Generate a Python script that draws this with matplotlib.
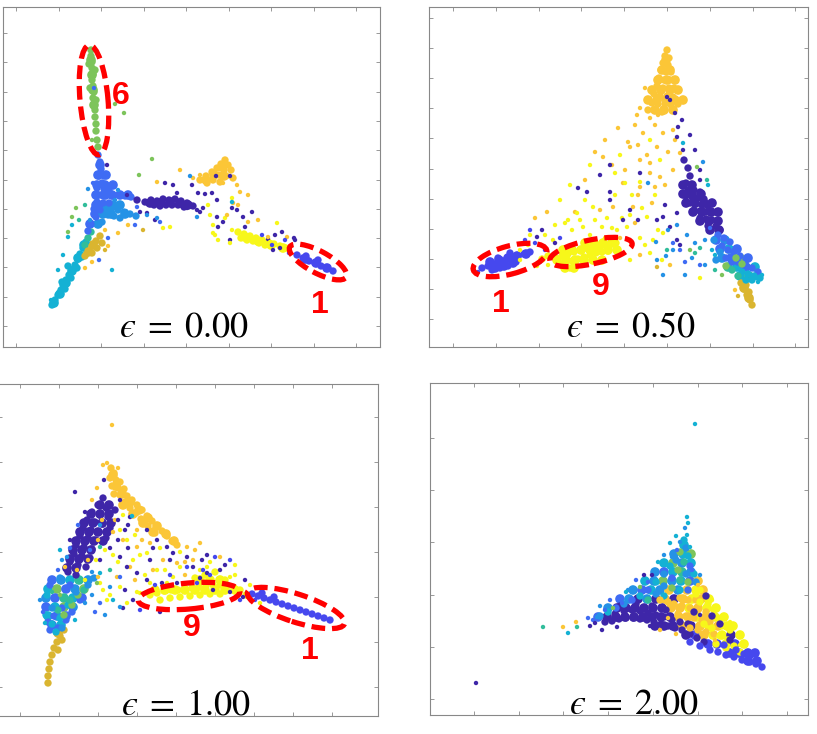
import numpy as np
import matplotlib.pyplot as plt
from matplotlib.patches import Ellipse

plt.rcParams['mathtext.fontset'] = 'stix'

# parula-like colours, one per digit class 0..9
digit_colors = ['#3e26a8', '#4648ee', '#3f6cf4', '#2592e6', '#14b1d4',
                '#31bd9b', '#7dc45b', '#dab530', '#fbc637', '#f7f71a']

eps_values = [0.00, 0.50, 1.00, 2.00]

# embedded samples (x, y, digit)
# "fill" = packed core of a cluster, "dense" = crowded arms, "sparse" = scattered points
eps000_fill = [
    (9.7, 18.2, 2), (9.5, 17.2, 2), (10.3, 17.2, 2), (9.4, 16.2, 2), (10.2, 16.2, 2), (11.0, 16.2, 2),
    (9.3, 15.2, 2), (10.1, 15.2, 2), (10.9, 15.2, 2), (11.7, 15.2, 2), (12.5, 15.2, 2),
    (9.3, 14.2, 2), (10.1, 14.2, 2), (11.0, 14.2, 3), (11.7, 14.2, 3),
    (9.2, 13.3, 2), (10.0, 13.3, 3), (10.8, 13.3, 3), (12.2, 13.3, 3), (8.7, 12.3, 2), (9.5, 12.3, 3),
    (8.1, 10.2, 4), (7.5, 8.9, 4), (6.9, 7.6, 4), (6.3, 6.4, 4), (5.7, 5.3, 4), (5.1, 4.4, 4),
    (9.0, 10.2, 7), (8.5, 9.5, 7),
    (14.7, 14.4, 0), (15.7, 14.4, 0), (16.7, 14.5, 0), (17.7, 14.4, 0), (18.5, 14.2, 0),
    (21.9, 18.0, 8), (21.1, 17.2, 8), (22.1, 17.1, 8), (20.3, 16.7, 8),
    (24.2, 11.0, 9), (25.5, 10.6, 9), (26.8, 10.2, 9), (28.0, 9.9, 9),
    (30.2, 8.8, 1), (31.3, 8.4, 1), (32.4, 7.9, 1),
    (8.8, 28.7, 6), (8.9, 27.2, 6), (9.0, 25.7, 6), (9.1, 24.2, 6),
]
eps000_dense = [
    (5.2, 4.7, 4), (4.9, 4.2, 4), (5.5, 5.2, 4), (5.8, 5.7, 4), (6.0, 6.2, 4), (6.3, 6.7, 4),
    (6.6, 7.2, 4), (6.9, 7.7, 4), (7.2, 8.2, 4), (7.5, 8.8, 4), (7.7, 9.3, 4), (8.0, 9.9, 4),
    (8.3, 10.5, 4), (7.9, 9.0, 4), (7.4, 7.9, 4), (6.8, 6.9, 4), (6.2, 5.8, 4), (6.5, 8.1, 4),
    (5.9, 6.5, 4),
    (8.5, 10.9, 5), (8.2, 10.2, 5), (8.8, 11.5, 5),
    (9.7, 11.1, 7), (9.3, 10.6, 7), (8.9, 10.1, 7), (8.5, 9.6, 7), (8.2, 9.1, 7), (9.9, 10.4, 7),
    (9.4, 9.9, 7), (8.9, 9.4, 7),
    (10.3, 13.9, 3), (10.9, 13.9, 3), (11.5, 13.7, 3), (12.1, 13.5, 3), (12.7, 13.3, 3),
    (13.3, 13.1, 3), (10.5, 13.2, 3), (11.1, 13.1, 3), (11.7, 12.9, 3), (9.9, 12.5, 3),
    (9.5, 19.2, 2), (9.7, 18.5, 2), (9.8, 17.8, 2), (9.6, 17.1, 2), (10.1, 17.1, 2), (9.9, 16.4, 2),
    (9.4, 15.9, 2), (10.1, 15.8, 2), (10.6, 15.7, 2), (9.7, 15.2, 2), (10.3, 15.1, 2), (11.0, 15.1, 2),
    (11.6, 15.2, 2), (12.2, 15.1, 2), (12.8, 15.0, 2), (9.4, 14.5, 2), (10.0, 14.4, 2), (10.6, 14.4, 2),
    (9.1, 13.8, 2), (9.7, 13.7, 2), (9.3, 13.0, 2), (8.8, 12.3, 2), (8.5, 11.6, 2),
    (14.2, 14.5, 0), (14.8, 14.7, 0), (15.4, 14.6, 0), (16.0, 14.8, 0), (16.6, 14.7, 0), (17.2, 14.8, 0),
    (17.8, 14.6, 0), (18.4, 14.4, 0), (19.0, 14.1, 0), (15.7, 14.1, 0), (16.3, 14.2, 0), (16.9, 14.2, 0),
    (17.5, 14.2, 0), (18.1, 14.0, 0), (15.1, 14.2, 0), (13.4, 14.7, 0),
    (22.2, 18.7, 8), (21.8, 18.3, 8), (22.5, 18.2, 8), (21.4, 17.9, 8), (22.1, 17.7, 8), (22.8, 17.7, 8),
    (20.9, 17.5, 8), (21.6, 17.2, 8), (22.3, 17.1, 8), (23.0, 16.9, 8), (20.3, 17.1, 8), (21.0, 16.7, 8),
    (19.7, 16.7, 8), (20.4, 16.4, 8), (21.7, 16.5, 8),
    (23.5, 11.5, 9), (24.1, 11.3, 9), (24.7, 11.1, 9), (25.3, 10.9, 9), (25.9, 10.7, 9), (26.5, 10.5, 9),
    (27.1, 10.3, 9), (27.7, 10.1, 9), (28.3, 9.9, 9), (23.8, 10.9, 9), (24.4, 10.7, 9), (25.0, 10.6, 9),
    (25.6, 10.4, 9), (26.2, 10.2, 9),
    (29.4, 9.2, 1), (30.0, 8.9, 1), (30.6, 8.6, 1), (31.2, 8.4, 1), (31.8, 8.1, 1), (32.4, 7.9, 1),
    (33.0, 7.6, 1), (30.3, 9.1, 1), (31.5, 8.7, 1),
    (8.8, 29.7, 6), (8.8, 29.1, 6), (8.9, 28.5, 6), (8.9, 27.9, 6), (9.0, 27.3, 6), (8.9, 26.7, 6),
    (9.0, 26.1, 6), (9.1, 25.5, 6), (9.0, 24.9, 6), (9.1, 24.3, 6), (9.2, 23.7, 6), (9.2, 23.0, 6),
    (9.3, 22.3, 6), (9.3, 21.6, 6), (9.4, 20.7, 6), (9.5, 20.0, 6), (8.6, 28.3, 6), (9.2, 27.7, 6),
    (8.7, 25.9, 6), (9.3, 24.7, 6),
]
eps000_sparse = [
    (10.4, 18.2, 0), (12.4, 15.2, 0), (13.7, 13.5, 0), (17.4, 15.4, 0), (19.4, 13.7, 0), (20.0, 13.9, 0),
    (18.9, 16.2, 0), (19.5, 15.4, 0), (20.2, 15.3, 0), (20.9, 15.4, 0), (21.3, 17.1, 0), (22.7, 17.1, 0),
    (21.4, 14.7, 0), (23.4, 13.7, 0), (19.7, 13.5, 0), (21.4, 13.0, 0), (21.5, 12.0, 0), (22.0, 12.5, 0),
    (22.9, 13.9, 0), (24.0, 13.0, 0), (24.9, 13.5, 0), (24.2, 12.0, 0), (22.7, 10.7, 0), (26.5, 10.8, 0),
    (27.2, 11.2, 0), (27.9, 11.5, 0), (27.0, 9.7, 0), (29.2, 10.7, 0), (27.7, 9.9, 0), (29.1, 10.9, 0),
    (14.4, 13.4, 0), (15.2, 12.7, 0), (17.0, 16.2, 0), (16.2, 16.4, 0), (18.4, 13.9, 0),
    (20.7, 13.2, 9), (21.0, 12.2, 9), (21.2, 11.2, 9), (21.5, 10.7, 9), (22.9, 14.9, 9), (22.2, 12.9, 9),
    (22.9, 11.7, 9), (27.4, 12.4, 9), (26.7, 10.5, 9), (16.0, 11.9, 9), (16.7, 12.0, 9), (21.0, 11.4, 9),
    (22.7, 10.4, 9), (20.5, 14.2, 9),
    (19.0, 16.9, 8), (19.7, 17.2, 8), (22.0, 16.4, 8), (23.4, 16.2, 8), (23.7, 15.5, 8), (24.5, 15.2, 8),
    (23.0, 14.4, 8), (23.5, 14.2, 8), (22.4, 13.2, 8), (24.5, 12.5, 8), (25.5, 12.7, 8), (26.5, 11.0, 8),
    (28.4, 11.0, 8), (17.7, 17.7, 8), (15.4, 16.5, 8), (12.5, 12.2, 8), (11.5, 11.4, 8), (10.5, 10.1, 8),
    (8.2, 7.9, 8), (10.2, 11.7, 8), (8.9, 8.5, 8),
    (14.0, 11.7, 7), (10.2, 9.7, 7),
    (8.5, 15.8, 3), (9.0, 16.4, 2), (10.5, 10.9, 2), (10.9, 7.7, 4), (9.6, 8.7, 2), (15.4, 12.9, 3),
    (14.4, 13.2, 3), (12.3, 13.6, 3), (13.4, 14.0, 2), (8.7, 12.7, 3), (18.7, 17.1, 3), (19.4, 13.0, 3),
    (22.9, 14.5, 4), (26.9, 10.2, 1), (25.9, 11.2, 1), (28.2, 10.7, 1), (28.6, 9.4, 1), (11.5, 15.7, 3),
    (11.2, 14.7, 3), (13.2, 12.2, 2), (15.7, 12.5, 2), (9.1, 25.9, 2),
    (6.5, 11.0, 4), (6.9, 12.2, 4), (6.0, 9.2, 4), (5.5, 7.7, 4), (4.8, 4.7, 4),
    (6.9, 13.0, 6), (7.3, 13.9, 6), (6.5, 11.5, 6), (7.6, 12.7, 5), (11.2, 24.3, 6), (12.1, 23.4, 6),
    (14.9, 18.8, 6), (13.6, 17.2, 6), (8.9, 20.7, 6), (8.2, 14.2, 5),
]

eps050_fill = [
    (23.7, 28.7, 8), (23.3, 27.7, 8), (24.1, 27.7, 8), (22.9, 26.7, 8), (23.8, 26.7, 8), (24.6, 26.7, 8),
    (22.3, 25.7, 8), (23.2, 25.7, 8), (24.1, 25.7, 8), (24.9, 25.7, 8), (21.9, 24.7, 8), (22.8, 24.7, 8),
    (23.7, 24.7, 8), (24.6, 24.7, 8), (25.4, 24.7, 8), (22.6, 23.7, 8), (23.5, 23.7, 8), (24.4, 23.7, 8),
    (25.4, 16.2, 0), (26.3, 16.2, 0), (25.4, 15.3, 0), (26.3, 15.3, 0), (27.2, 15.3, 0), (25.7, 14.4, 0),
    (26.6, 14.4, 0), (27.5, 14.4, 0), (28.3, 14.4, 0), (26.4, 13.5, 0), (27.3, 13.5, 0), (28.2, 13.5, 0),
    (28.9, 13.5, 0), (27.1, 12.6, 0), (28.0, 12.6, 0), (28.9, 12.6, 0), (28.1, 11.7, 0), (29.0, 11.7, 0),
    (28.7, 10.7, 2), (29.6, 10.7, 3), (29.1, 9.8, 2), (30.0, 9.8, 4), (30.8, 9.8, 2), (29.3, 8.9, 3),
    (30.2, 8.9, 2), (31.1, 8.9, 6), (31.9, 8.9, 2), (29.9, 8.0, 5), (30.8, 8.0, 4), (31.7, 8.0, 2),
    (32.6, 8.0, 4), (31.1, 7.1, 4), (32.0, 7.1, 5), (32.9, 7.1, 4), (31.5, 5.9, 7), (32.0, 4.9, 7),
    (6.1, 8.5, 1), (7.0, 8.7, 1), (7.9, 8.9, 1), (8.8, 9.1, 1), (9.7, 9.3, 1), (6.6, 7.9, 1),
    (7.5, 8.1, 1), (8.4, 8.4, 1),
    (13.4, 9.7, 9), (14.3, 9.7, 9), (15.2, 9.7, 9), (16.1, 9.7, 9), (17.0, 9.7, 9), (17.9, 9.7, 9),
    (18.8, 9.7, 9), (12.8, 8.7, 9), (13.7, 8.7, 9), (14.6, 8.7, 9), (15.5, 8.7, 9), (16.4, 8.7, 9),
    (17.3, 8.7, 9), (15.6, 10.4, 9), (16.5, 10.4, 9), (17.4, 10.4, 9), (18.3, 10.4, 9), (13.6, 7.9, 9),
    (14.5, 7.9, 9),
]
eps050_dense = [
    (23.8, 29.7, 8), (23.6, 29.1, 8), (24.0, 28.9, 8), (23.4, 28.4, 8), (23.9, 28.2, 8), (23.2, 27.7, 8),
    (23.7, 27.5, 8), (24.2, 27.5, 8), (23.0, 26.9, 8), (23.5, 26.7, 8), (24.1, 26.7, 8), (22.8, 26.1, 8),
    (23.4, 25.9, 8), (24.0, 25.9, 8), (24.5, 25.9, 8), (22.5, 25.3, 8), (23.1, 25.1, 8), (23.8, 25.1, 8),
    (24.4, 25.0, 8), (22.3, 24.4, 8), (22.9, 24.3, 8), (23.6, 24.3, 8), (24.2, 24.2, 8), (24.9, 24.3, 8),
    (21.9, 23.7, 8), (23.3, 23.5, 8),
    (25.9, 15.7, 0), (26.5, 15.7, 0), (27.1, 15.5, 0), (25.7, 15.1, 0), (26.3, 15.0, 0), (26.9, 14.9, 0),
    (27.5, 14.8, 0), (26.1, 14.4, 0), (26.7, 14.3, 0), (27.3, 14.2, 0), (27.9, 14.1, 0), (26.5, 13.7, 0),
    (27.1, 13.6, 0), (27.7, 13.5, 0), (28.3, 13.4, 0), (27.1, 12.9, 0), (27.7, 12.8, 0), (28.3, 12.7, 0),
    (28.7, 12.1, 0), (27.9, 12.1, 0), (29.1, 11.7, 0), (25.7, 16.4, 0), (26.1, 17.1, 0), (25.9, 17.9, 0),
    (25.5, 18.7, 0),
    (31.2, 6.4, 7), (31.5, 5.8, 7), (31.8, 5.2, 7), (32.1, 4.7, 7), (32.3, 4.2, 7), (31.7, 6.2, 7),
    (32.0, 5.5, 7),
    (28.9, 11.2, 2), (29.5, 10.9, 2), (30.1, 10.5, 2), (29.3, 10.1, 2), (29.9, 9.7, 2), (30.5, 9.5, 2),
    (31.1, 9.1, 2), (31.7, 8.7, 2), (30.9, 8.5, 2), (31.5, 8.1, 2), (32.3, 7.9, 2), (32.9, 7.5, 2),
    (29.7, 8.9, 2), (30.3, 8.5, 2),
    (31.3, 7.5, 4), (31.9, 7.3, 4), (32.5, 7.1, 4), (33.1, 6.9, 4), (31.7, 6.7, 4), (32.3, 6.7, 4),
    (28.5, 10.7, 3), (29.1, 9.5, 3), (28.7, 8.7, 3),
    (30.7, 8.9, 6), (31.3, 8.3, 6), (29.7, 8.1, 6), (30.3, 7.7, 5), (30.9, 7.1, 5),
    (12.7, 8.9, 9), (13.3, 9.1, 9), (13.9, 9.3, 9), (14.5, 9.5, 9), (15.1, 9.7, 9), (15.7, 9.9, 9),
    (16.3, 10.0, 9), (16.9, 10.1, 9), (17.5, 10.2, 9), (18.1, 10.3, 9), (18.7, 10.4, 9), (13.1, 8.3, 9),
    (13.7, 8.5, 9), (14.3, 8.6, 9), (14.9, 8.8, 9), (15.5, 9.0, 9), (16.1, 9.2, 9), (16.7, 9.4, 9),
    (17.3, 9.5, 9), (17.9, 9.6, 9), (14.1, 7.9, 9), (14.7, 8.1, 9), (11.9, 9.1, 9), (11.3, 8.8, 9),
    (5.3, 7.9, 1), (5.9, 8.1, 1), (6.5, 8.3, 1), (7.1, 8.5, 1), (7.7, 8.7, 1), (8.3, 8.9, 1),
    (8.9, 9.1, 1), (9.5, 9.3, 1), (10.1, 9.5, 1), (6.3, 7.7, 1), (7.1, 7.9, 1), (7.9, 8.1, 1),
    (8.7, 8.5, 1), (6.9, 8.9, 1), (8.1, 9.4, 1),
]
eps050_sparse = [
    (21.6, 25.9, 8), (21.1, 23.9, 8), (20.8, 23.2, 8), (22.1, 22.9, 8), (22.9, 23.2, 8), (21.4, 21.4, 8),
    (23.4, 21.4, 8), (24.4, 21.7, 8), (22.8, 20.0, 8), (23.9, 19.5, 8), (20.1, 20.0, 8), (21.1, 18.7, 8),
    (22.1, 17.4, 8), (19.4, 16.4, 8), (21.1, 16.0, 8), (18.9, 21.9, 8), (17.4, 19.0, 8), (16.6, 19.5, 8),
    (22.1, 18.4, 8), (24.4, 17.7, 8), (25.1, 19.4, 8), (11.8, 13.5, 8), (10.6, 12.9, 8), (14.6, 13.5, 8),
    (18.4, 14.0, 8), (20.4, 14.0, 8), (20.9, 15.2, 8), (22.3, 14.4, 8), (19.9, 20.5, 8), (20.9, 20.2, 8),
    (21.8, 19.2, 8), (22.6, 16.0, 8), (20.6, 12.4, 8), (30.6, 5.7, 8), (23.1, 17.0, 8), (18.3, 18.2, 8),
    (15.6, 16.7, 8), (30.9, 5.1, 7), (22.8, 8.0, 7),
    (17.1, 13.7, 8), (19.6, 17.7, 8), (17.6, 20.7, 8), (19.1, 10.9, 8), (21.1, 9.2, 8), (23.6, 16.2, 8),
    (24.6, 20.7, 8), (20.6, 22.2, 8), (22.6, 22.2, 8), (24.1, 8.2, 8),
    (13.6, 12.4, 9), (14.3, 11.7, 9), (15.1, 12.7, 9), (16.4, 14.0, 9), (16.6, 12.7, 9), (17.3, 12.0, 9),
    (17.8, 12.9, 9), (18.3, 11.9, 9), (18.8, 11.7, 9), (19.3, 12.9, 9), (19.8, 12.0, 9), (20.1, 13.2, 9),
    (21.3, 13.9, 9), (18.6, 17.4, 9), (19.6, 16.4, 9), (20.3, 15.2, 9), (21.8, 13.0, 9), (22.9, 11.7, 9),
    (21.1, 10.9, 9), (22.1, 9.4, 9), (23.3, 8.7, 9), (21.6, 10.2, 9), (22.4, 10.7, 9), (27.1, 6.9, 9),
    (23.4, 11.4, 9), (14.8, 13.4, 9), (13.9, 12.7, 9), (15.4, 12.0, 9), (12.4, 10.7, 9), (9.9, 10.2, 9),
    (21.1, 16.5, 9), (12.6, 12.2, 9), (9.1, 8.7, 9), (11.9, 8.2, 9), (10.8, 8.1, 9),
    (13.1, 14.7, 9), (15.6, 14.7, 9), (18.6, 15.2, 9), (16.1, 18.2, 9), (14.1, 16.2, 9), (10.1, 11.2, 9),
    (9.1, 9.7, 9), (11.6, 11.2, 9), (16.1, 11.2, 9), (17.6, 10.9, 9), (20.3, 10.2, 9), (20.1, 8.7, 9),
    (22.6, 15.2, 9), (23.1, 18.7, 9), (22.1, 20.7, 9), (19.1, 19.2, 9),
    (17.1, 17.2, 0), (18.1, 15.5, 0), (15.8, 15.5, 0), (20.1, 13.7, 0), (20.9, 12.7, 0), (19.4, 12.7, 0),
    (22.8, 12.7, 0), (23.4, 13.0, 0), (24.1, 12.0, 0), (24.8, 13.4, 0), (23.8, 25.0, 0), (24.1, 24.7, 0),
    (24.6, 23.4, 0), (24.9, 22.0, 0), (24.8, 21.0, 0), (25.4, 19.7, 0), (11.3, 11.7, 0), (10.8, 11.0, 0),
    (12.6, 10.4, 0), (24.8, 10.7, 0), (18.1, 18.2, 0), (18.1, 14.7, 0), (21.1, 17.4, 0), (14.9, 15.9, 0),
    (27.1, 17.7, 0), (26.6, 19.7, 0), (26.1, 21.2, 0), (25.3, 22.7, 0), (27.1, 16.7, 0), (25.1, 10.2, 0),
    (23.6, 14.2, 0),
    (22.7, 10.5, 3), (22.8, 8.7, 3), (23.7, 9.1, 3), (24.4, 9.7, 3), (25.1, 9.7, 2), (25.8, 11.2, 3),
    (26.6, 10.4, 3), (25.6, 8.5, 2), (26.3, 8.9, 3), (26.6, 9.4, 5), (27.1, 9.9, 5), (27.8, 16.7, 5),
    (27.9, 16.2, 4), (24.8, 12.2, 3), (23.9, 11.7, 3), (24.4, 10.4, 2), (23.8, 9.7, 5), (21.9, 16.4, 3),
    (26.8, 18.0, 6), (27.4, 18.5, 3), (25.4, 20.4, 4), (28.1, 11.9, 2), (27.6, 10.7, 3), (28.3, 9.7, 4),
    (27.6, 8.2, 3), (28.6, 7.7, 5), (29.3, 7.2, 6), (32.9, 6.5, 4), (33.3, 7.2, 4), (23.4, 7.2, 3),
    (25.6, 7.2, 3), (27.1, 8.2, 2), (28.6, 9.2, 4), (26.1, 9.7, 6), (13.1, 10.9, 1),
    (9.6, 10.7, 1), (10.6, 10.4, 1), (11.6, 9.7, 1), (11.1, 8.5, 1), (4.9, 7.5, 1), (10.1, 11.7, 1),
]

eps100_fill = [
    (11.5, 24.1, 8), (11.8, 23.0, 8), (12.4, 22.2, 8), (13.2, 21.4, 8), (14.1, 20.6, 8), (15.0, 19.8, 8),
    (15.9, 19.0, 8), (16.8, 18.2, 8), (17.6, 17.5, 8),
    (10.2, 21.1, 0), (11.1, 21.1, 0), (9.3, 20.2, 0), (10.2, 20.2, 0), (11.1, 20.2, 0), (8.6, 19.3, 0),
    (9.5, 19.3, 0), (10.4, 19.3, 0), (11.3, 19.3, 0), (8.2, 18.4, 0), (9.1, 18.4, 0), (10.0, 18.4, 0),
    (10.9, 18.4, 0), (7.8, 17.5, 0), (8.7, 17.5, 0), (9.6, 17.5, 0), (10.5, 17.5, 0), (7.5, 16.6, 0),
    (8.4, 16.6, 0), (9.3, 16.6, 0), (7.2, 15.7, 0), (8.1, 15.7, 0), (9.0, 15.7, 0), (6.9, 14.8, 0),
    (7.8, 14.8, 0),
    (12.5, 21.1, 8), (13.5, 20.2, 8), (14.5, 19.3, 8), (15.5, 18.4, 8),
    (5.4, 13.6, 2), (6.3, 13.6, 3), (7.2, 13.6, 4), (8.1, 13.6, 5), (9.0, 13.6, 3), (5.0, 12.7, 4),
    (5.9, 12.7, 6), (6.8, 12.7, 2), (7.7, 12.7, 3), (8.6, 12.7, 6), (4.8, 11.8, 3), (5.7, 11.8, 2),
    (6.6, 11.8, 5), (7.5, 11.8, 4), (8.4, 11.8, 2), (4.8, 10.9, 2), (5.7, 10.9, 4), (6.6, 10.9, 6),
    (7.5, 10.9, 3), (5.0, 10.0, 4), (5.9, 10.0, 3), (6.8, 10.0, 2), (5.4, 9.1, 2), (6.3, 9.1, 4),
    (6.0, 8.3, 7),
    (15.7, 12.6, 9), (16.7, 12.6, 9), (17.7, 12.6, 9), (18.7, 12.6, 9), (19.7, 12.6, 9), (20.7, 12.6, 9),
    (21.7, 12.6, 9), (22.7, 12.6, 9), (23.7, 12.6, 9), (20.2, 13.6, 9), (21.2, 13.6, 9), (22.2, 13.6, 9),
]
eps100_dense = [
    (11.3, 24.8, 8), (11.6, 24.3, 8), (11.2, 23.8, 8), (11.8, 23.6, 8), (12.2, 23.4, 8), (11.4, 23.0, 8),
    (12.0, 22.8, 8), (12.6, 22.7, 8), (11.6, 22.2, 8), (12.2, 22.1, 8), (12.9, 22.0, 8), (13.4, 21.6, 8),
    (12.7, 21.4, 8), (13.9, 21.1, 8), (13.2, 20.8, 8), (14.4, 20.6, 8), (13.8, 20.3, 8), (14.9, 20.0, 8),
    (14.3, 19.7, 8), (15.4, 19.5, 8), (15.9, 19.0, 8), (15.0, 19.0, 8), (16.4, 18.5, 8), (15.7, 18.3, 8),
    (16.9, 18.0, 8), (17.4, 17.5, 8), (17.9, 17.1, 8),
    (10.5, 21.8, 0), (10.0, 21.1, 0), (10.8, 20.8, 0), (9.4, 20.4, 0), (10.2, 20.1, 0), (11.0, 19.9, 0),
    (8.9, 19.6, 0), (9.7, 19.4, 0), (10.5, 19.2, 0), (8.5, 18.8, 0), (9.3, 18.6, 0), (10.1, 18.4, 0),
    (8.2, 18.0, 0), (9.0, 17.8, 0), (9.8, 17.6, 0), (7.8, 17.1, 0), (8.6, 16.9, 0), (9.4, 16.7, 0),
    (7.6, 16.2, 0), (8.4, 16.0, 0), (9.2, 15.8, 0), (7.2, 15.4, 0), (8.0, 15.1, 0), (8.8, 14.9, 0),
    (7.0, 14.4, 0), (7.8, 14.1, 0), (11.2, 18.8, 0), (11.7, 20.6, 0), (10.8, 17.8, 0),
    (6.6, 8.6, 7), (6.2, 8.0, 7), (5.9, 7.4, 7), (5.6, 6.8, 7), (5.4, 6.1, 7), (5.2, 5.4, 7),
    (5.1, 4.7, 7), (5.0, 4.0, 7), (5.0, 3.3, 7), (6.4, 7.6, 7), (6.0, 6.6, 7),
    (5.0, 9.4, 2), (5.6, 10.0, 2), (6.4, 10.8, 2), (5.2, 8.6, 2), (6.0, 8.8, 2), (6.8, 9.6, 2),
    (7.4, 10.4, 2), (8.2, 11.6, 2), (5.2, 13.1, 2), (7.2, 13.1, 2),
    (4.8, 10.1, 4), (5.4, 9.2, 4), (6.2, 9.8, 4), (7.0, 11.1, 4), (5.8, 8.4, 4), (4.9, 12.1, 4),
    (6.6, 10.1, 6), (7.4, 11.1, 6), (8.0, 12.1, 6),
    (6.0, 10.6, 5), (7.2, 11.6, 5), (8.6, 12.6, 5),
    (5.4, 10.8, 3), (6.4, 8.8, 3), (7.8, 12.4, 3), (9.0, 13.1, 3), (9.6, 13.8, 3), (6.2, 13.8, 3),
    (15.2, 12.1, 9), (15.9, 12.3, 9), (16.6, 12.5, 9), (17.3, 12.6, 9), (18.0, 12.6, 9), (18.7, 12.7, 9),
    (19.4, 12.8, 9), (20.1, 12.9, 9), (20.8, 13.0, 9), (21.5, 13.1, 9), (22.2, 13.1, 9), (22.9, 13.0, 9),
    (23.6, 12.8, 9), (16.2, 11.6, 9), (17.2, 11.8, 9), (18.2, 11.9, 9), (19.2, 12.0, 9), (20.2, 12.1, 9),
    (21.2, 12.2, 9), (22.2, 12.2, 9), (19.7, 13.8, 9), (20.7, 14.1, 9), (21.7, 14.4, 9), (22.7, 13.6, 9),
    (24.2, 12.6, 9), (24.8, 12.1, 9),
    (25.4, 12.2, 1), (26.0, 12.0, 1), (26.6, 11.8, 1), (27.2, 11.6, 1), (27.8, 11.4, 1), (28.4, 11.2, 1),
    (29.0, 11.0, 1), (29.6, 10.8, 1), (30.2, 10.6, 1), (30.8, 10.4, 1), (31.4, 10.2, 1), (32.0, 10.0, 1),
    (32.6, 9.8, 1), (33.2, 9.6, 1), (26.4, 12.3, 1), (27.6, 11.9, 1),
]
eps100_sparse = [
    (11.4, 29.1, 8), (10.9, 25.3, 8), (12.0, 24.8, 8), (10.4, 19.6, 8), (13.9, 16.9, 8), (13.2, 14.9, 8),
    (11.9, 13.9, 8), (15.5, 14.6, 8), (16.5, 15.6, 8), (17.9, 15.3, 8), (18.9, 16.9, 8), (19.5, 15.6, 8),
    (13.9, 18.6, 8), (15.2, 17.3, 8), (9.0, 15.6, 8), (10.0, 13.9, 8), (7.9, 14.6, 8), (6.7, 14.9, 8),
    (20.2, 17.3, 8), (22.2, 15.9, 8), (18.7, 15.4, 8), (10.5, 25.1, 8), (12.5, 17.6, 8), (9.9, 22.8, 8),
    (9.4, 21.6, 8), (11.7, 19.6, 8), (11.5, 18.4, 8), (14.4, 17.6, 8), (10.0, 17.6, 8), (19.7, 16.6, 8),
    (18.7, 14.1, 8), (13.7, 13.6, 8),
    (12.2, 18.6, 9), (12.9, 17.6, 9), (13.5, 15.6, 9), (14.9, 16.3, 9), (15.9, 14.6, 9), (16.9, 13.3, 9),
    (17.5, 13.9, 9), (20.2, 14.6, 9), (23.2, 13.9, 9), (12.2, 12.9, 9), (14.2, 12.3, 9), (10.5, 12.6, 9),
    (20.9, 14.9, 9), (10.2, 13.3, 9), (10.9, 11.6, 9), (12.9, 11.3, 9), (13.9, 12.4, 9), (26.2, 11.3, 9),
    (11.5, 16.1, 9), (14.7, 14.1, 9), (18.2, 14.9, 9), (23.7, 15.1, 9), (25.2, 13.1, 9), (9.8, 15.6, 9),
    (8.7, 13.6, 9), (12.5, 20.1, 9), (13.7, 18.1, 9), (14.2, 16.1, 9), (10.7, 16.6, 9), (12.0, 15.4, 9),
    (16.2, 16.8, 9), (18.2, 16.4, 9), (21.2, 15.4, 9), (23.7, 14.1, 9), (16.7, 14.6, 9), (15.2, 13.3, 9),
    (11.2, 12.1, 9),
    (7.7, 22.4, 0), (13.2, 19.9, 0), (14.9, 18.6, 0), (15.9, 17.6, 0), (15.5, 16.8, 0), (16.9, 16.9, 0),
    (17.5, 16.3, 0), (18.9, 15.9, 0), (19.5, 14.9, 0), (20.4, 15.6, 0), (20.9, 14.3, 0), (22.2, 14.6, 0),
    (12.2, 15.9, 0), (12.9, 14.9, 0), (13.9, 14.3, 0), (14.9, 13.6, 0), (16.4, 13.3, 0), (17.9, 13.3, 0),
    (20.2, 13.8, 0), (21.5, 12.6, 0), (24.5, 11.9, 0), (20.9, 16.1, 0), (12.5, 10.8, 0), (13.5, 11.6, 0),
    (12.0, 19.6, 0), (12.7, 18.6, 0), (11.2, 16.8, 0), (10.2, 15.6, 0), (23.2, 12.4, 0),
    (10.6, 23.6, 0), (12.2, 21.6, 0), (13.0, 19.1, 0), (12.0, 17.6, 0), (13.0, 16.8, 0), (15.2, 15.6, 0),
    (17.2, 15.6, 0), (22.7, 15.1, 0), (12.7, 12.6, 0), (8.7, 20.4, 0), (7.2, 17.6, 0), (24.7, 13.6, 0),
    (16.2, 10.4, 0),
    (7.2, 16.8, 2), (6.9, 15.9, 3), (6.2, 16.6, 4), (5.4, 12.4, 5), (9.4, 14.4, 3), (10.2, 14.3, 4),
    (11.2, 12.9, 3), (12.2, 13.9, 2), (10.2, 16.9, 5), (10.2, 11.3, 2), (11.5, 11.6, 4), (12.2, 10.9, 3),
    (9.2, 16.6, 2), (11.2, 14.6, 5), (9.9, 13.3, 6), (4.7, 9.3, 4), (6.2, 12.1, 6), (8.7, 11.3, 3),
    (9.7, 10.4, 2), (10.7, 10.1, 3), (7.7, 9.6, 4), (4.2, 11.6, 3), (4.5, 10.4, 2), (13.4, 20.0, 4),
    (9.4, 12.1, 3), (10.2, 19.1, 3), (8.0, 19.1, 2), (6.4, 15.6, 3), (6.0, 14.6, 2),
    (19.9, 13.3, 1), (18.9, 14.9, 1), (20.5, 14.6, 1), (14.2, 10.6, 1), (15.7, 13.1, 1), (17.2, 14.1, 1),
    (23.2, 15.6, 1), (21.7, 15.9, 1), (25.7, 11.6, 1), (21.2, 14.1, 1), (24.2, 11.6, 1),
]

eps200_fill = [
    (25.4, 17.0, 4), (24.4, 16.1, 3), (25.3, 16.1, 4), (26.1, 16.1, 6), (23.4, 15.2, 4), (24.3, 15.2, 6),
    (25.2, 15.2, 3), (26.1, 15.2, 4), (22.5, 14.3, 3), (23.4, 14.3, 2), (24.3, 14.3, 4), (25.2, 14.3, 5),
    (26.1, 14.3, 3), (21.5, 13.4, 4), (22.4, 13.4, 3), (23.3, 13.4, 6), (24.2, 13.4, 3), (25.1, 13.4, 4),
    (26.0, 13.4, 2), (26.8, 13.4, 8), (20.3, 12.5, 3), (21.2, 12.5, 2), (22.1, 12.5, 4), (23.0, 12.5, 3),
    (23.9, 12.5, 8), (24.8, 12.5, 3), (25.7, 12.5, 8), (26.6, 12.5, 9), (27.3, 12.5, 8),
    (19.0, 11.6, 2), (19.9, 11.6, 3), (20.8, 11.6, 0), (21.7, 11.6, 3), (22.6, 11.6, 0), (23.5, 11.6, 8),
    (24.4, 11.6, 0), (25.3, 11.6, 8), (26.2, 11.6, 9), (27.1, 11.6, 8), (27.9, 11.6, 9),
    (17.8, 10.7, 3), (18.7, 10.7, 0), (19.6, 10.7, 0), (20.5, 10.7, 0), (21.4, 10.7, 0), (22.3, 10.7, 0),
    (23.2, 10.7, 0), (24.1, 10.7, 8), (25.0, 10.7, 8), (25.9, 10.7, 9), (26.8, 10.7, 8), (27.7, 10.7, 9),
    (28.6, 10.7, 9),
    (16.8, 9.8, 2), (17.7, 9.8, 0), (18.6, 9.8, 0), (19.5, 9.8, 0), (20.4, 9.8, 0), (21.3, 9.8, 0),
    (22.2, 9.8, 0), (23.1, 9.8, 0), (24.0, 9.8, 0), (24.9, 9.8, 8), (25.8, 9.8, 8), (26.7, 9.8, 9),
    (27.6, 9.8, 8), (28.5, 9.8, 9), (29.4, 9.8, 9),
    (22.5, 8.9, 0), (23.4, 8.9, 0), (24.3, 8.9, 0), (25.2, 8.9, 8), (26.1, 8.9, 0), (27.0, 8.9, 8),
    (27.9, 8.9, 9), (28.8, 8.9, 8), (29.7, 8.9, 9), (30.3, 8.9, 9),
    (25.6, 8.0, 0), (26.5, 8.0, 1), (27.4, 8.0, 8), (28.3, 8.0, 9), (29.2, 8.0, 9), (30.1, 8.0, 0),
    (31.0, 8.0, 9), (27.8, 7.1, 1), (28.7, 7.1, 1), (29.6, 7.1, 9), (30.5, 7.1, 1), (31.4, 7.1, 9),
    (30.0, 6.2, 1), (30.9, 6.2, 1), (31.8, 6.2, 1), (32.5, 6.2, 1), (31.8, 5.4, 1), (32.7, 5.4, 1),
]
eps200_dense = [
    (17.5, 9.3, 0), (18.2, 9.4, 0), (18.9, 9.6, 0), (19.6, 9.7, 0), (20.3, 9.7, 0), (21.0, 9.6, 0),
    (21.7, 9.5, 0), (22.4, 9.3, 0), (23.1, 9.1, 0), (23.8, 8.9, 0), (24.5, 8.7, 0), (25.2, 8.5, 0),
    (18.5, 10.1, 0), (19.4, 10.4, 0), (20.2, 10.5, 0), (21.0, 10.4, 0), (21.8, 10.2, 0), (22.6, 10.0, 0),
    (23.4, 9.8, 0), (24.2, 9.5, 0), (25.0, 9.3, 0), (25.8, 9.1, 0), (26.0, 8.1, 0), (26.7, 7.7, 0),
    (27.4, 7.3, 0), (19.0, 10.9, 0), (20.6, 11.1, 0), (22.2, 10.9, 0), (23.6, 10.5, 0),
    (25.4, 17.5, 4), (25.6, 16.7, 3), (25.0, 16.3, 6), (25.8, 15.9, 4), (24.6, 15.5, 3), (25.4, 15.3, 5),
    (26.0, 14.9, 2), (24.0, 14.9, 4), (24.8, 14.5, 6), (25.6, 14.1, 3), (26.4, 14.1, 4), (23.4, 14.1, 3),
    (24.2, 13.7, 2), (25.0, 13.5, 5), (25.8, 13.3, 6), (26.6, 13.3, 3), (22.6, 13.3, 4), (23.4, 12.9, 3),
    (24.2, 12.7, 6), (25.0, 12.5, 4), (21.8, 12.5, 2), (22.6, 12.1, 3), (21.0, 11.9, 4), (20.2, 11.5, 2),
    (21.8, 11.5, 5), (19.4, 11.1, 3), (18.6, 10.7, 2), (17.8, 10.3, 4), (17.0, 9.9, 3), (25.8, 12.5, 2),
    (23.4, 11.9, 4),
    (24.4, 11.1, 8), (25.2, 10.9, 8), (26.0, 10.7, 8), (26.8, 10.5, 8), (27.6, 10.3, 8), (24.8, 10.1, 8),
    (25.6, 9.9, 8), (26.4, 9.7, 8), (27.2, 9.5, 8), (28.0, 9.3, 8), (26.0, 8.7, 8), (26.8, 8.5, 8),
    (27.6, 8.3, 8), (28.4, 8.1, 8), (25.0, 11.7, 8), (25.8, 11.5, 8), (26.6, 11.5, 8), (23.0, 11.5, 8),
    (23.8, 11.3, 8),
    (27.0, 11.3, 9), (27.8, 11.1, 9), (28.4, 10.5, 9), (28.8, 9.7, 9), (29.2, 8.9, 9), (28.2, 8.7, 9),
    (29.0, 7.9, 9), (29.8, 7.5, 9), (30.4, 6.9, 9), (29.6, 6.7, 9), (27.4, 9.1, 9), (28.6, 7.1, 9),
    (31.0, 6.3, 9), (30.0, 8.5, 9), (26.6, 12.1, 9), (27.0, 12.5, 9),
    (28.0, 6.5, 1), (28.8, 6.3, 1), (29.6, 6.0, 1), (30.4, 5.8, 1), (31.2, 5.5, 1), (32.0, 5.3, 1),
    (32.6, 5.1, 1), (33.2, 4.8, 1), (31.4, 6.1, 1), (30.6, 6.5, 1), (29.4, 7.0, 1), (32.0, 5.9, 1),
    (27.0, 6.9, 1), (26.0, 7.3, 1),
    (28.2, 9.9, 0), (29.0, 9.1, 0), (26.4, 10.3, 0), (30.0, 7.5, 0), (27.6, 11.9, 0),
]
eps200_sparse = [
    (4.6, 3.2, 0), (26.5, 29.1, 4), (25.7, 19.8, 4), (11.3, 8.8, 5), (13.3, 8.8, 8), (13.8, 8.2, 4),
    (14.6, 9.3, 8), (14.7, 8.8, 5), (16.3, 9.5, 2), (16.7, 9.8, 3), (16.5, 9.2, 0), (17.2, 8.5, 0),
    (17.5, 10.5, 2), (18.3, 10.7, 6), (18.7, 8.8, 0), (19.2, 11.2, 2), (19.8, 12.5, 3), (24.0, 17.2, 4),
    (25.0, 17.3, 3), (25.7, 18.0, 4), (22.8, 15.3, 4), (22.2, 14.0, 0), (21.8, 13.3, 2), (21.0, 12.8, 6),
    (24.2, 15.8, 3), (24.7, 16.5, 2), (26.0, 16.8, 4), (25.5, 18.7, 3), (25.8, 19.2, 4), (24.6, 17.9, 4),
    (23.4, 16.0, 3), (21.4, 14.0, 0), (20.6, 13.5, 2), (19.6, 12.3, 4), (18.0, 11.5, 2), (17.0, 10.9, 3),
    (15.8, 9.7, 2), (16.0, 8.9, 0), (28.2, 11.5, 9), (27.0, 10.0, 0), (28.5, 7.5, 8), (31.0, 7.0, 9),
    (30.0, 9.3, 9), (24.6, 8.1, 8), (23.0, 8.5, 8), (23.8, 9.7, 8), (22.0, 8.9, 0), (26.8, 13.0, 8),
    (26.2, 14.5, 2), (27.0, 14.0, 3),
]

panel_points = [(eps000_fill, eps000_dense, eps000_sparse),
                (eps050_fill, eps050_dense, eps050_sparse),
                (eps100_fill, eps100_dense, eps100_sparse),
                (eps200_fill, eps200_dense, eps200_sparse)]

W, H = 817, 734
fig = plt.figure(figsize=(W / 100, H / 100), dpi=100)

# frame in pixels (left, top, right, bottom), ticks as (first, step, count), eps label position
layout = [
    dict(frame=(3, 7, 380, 347), xt=(1.3, 4.25, 9), yt=(2.1, 2.93, 11), lab=(0.48, 0.03)),
    dict(frame=(429, 7, 808, 347), xt=(2.4, 4.28, 9), yt=(2.8, 3.01, 11), lab=(0.533, 0.03)),
    dict(frame=(-2, 384, 378, 716), xt=(2.2, 3.9, 9), yt=(2.9, 4.5, 7), lab=(0.495, 0.006)),
    dict(frame=(430, 383, 808, 715), xt=(4.4, 4.47, 8), yt=(1.6, 5.22, 6), lab=(0.54, 0.004)),
]

# red dashed rings around digit clusters: (cx, cy, width, height, angle, label, lx, ly)
rings = [
    [(9.1, 24.7, 11.0, 2.8, 95, '6', 11.8, 25.1), (31.5, 8.5, 6.4, 2.2, -28, '1', 31.7, 4.2)],
    [(8.1, 8.7, 7.6, 2.8, 15, '1', 7.2, 4.3), (16.2, 9.5, 8.4, 2.4, 12, '9', 17.2, 6.0)],
    [(19.1, 12.0, 10.2, 2.6, 5, '9', 19.4, 8.8), (29.8, 10.8, 10.2, 2.8, -18, '1', 31.2, 6.5)],
    [],
]

for k, lay in enumerate(layout):
    l, t, r, b = lay['frame']
    ax = fig.add_axes([l / W, 1 - b / H, (r - l) / W, (b - t) / H])
    ax.set_xlim(0, (r - l) / 10)
    ax.set_ylim(0, (b - t) / 10)

    for pts, size in zip(panel_points[k], [48, 28, 10]):
        arr = np.array(pts)
        cols = [digit_colors[int(d)] for d in arr[:, 2]]
        ax.scatter(arr[:, 0], arr[:, 1], s=size, c=cols, linewidths=0, zorder=2)

    for cx, cy, w, h, ang, txt, lx, ly in rings[k]:
        ax.add_patch(Ellipse((cx, cy), w, h, angle=ang, fill=False, edgecolor='#ff0000',
                             lw=3.8, linestyle=(0, (2.6, 1.3)), zorder=3, clip_on=False))
        ax.text(lx, ly, txt, color='#ff0000', fontsize=23, fontweight='bold',
                family='Liberation Sans', ha='center', va='center', zorder=4)

    ax.text(lay['lab'][0], lay['lab'][1], '$\u03f5\\;=\\;%.2f$' % eps_values[k],
            transform=ax.transAxes, fontsize=26, ha='center', va='baseline', zorder=4)

    x0, dx, nx = lay['xt']
    y0, dy, ny = lay['yt']
    ax.set_xticks(x0 + dx * np.arange(nx))
    ax.set_yticks(y0 + dy * np.arange(ny))
    ax.tick_params(direction='in', length=3, width=0.6, color='#888888',
                   top=True, right=True, labelbottom=False, labelleft=False)
    for sp in ax.spines.values():
        sp.set_color('#888888')
        sp.set_linewidth(0.8)

fig.savefig('out.png', dpi=100, facecolor='white')
